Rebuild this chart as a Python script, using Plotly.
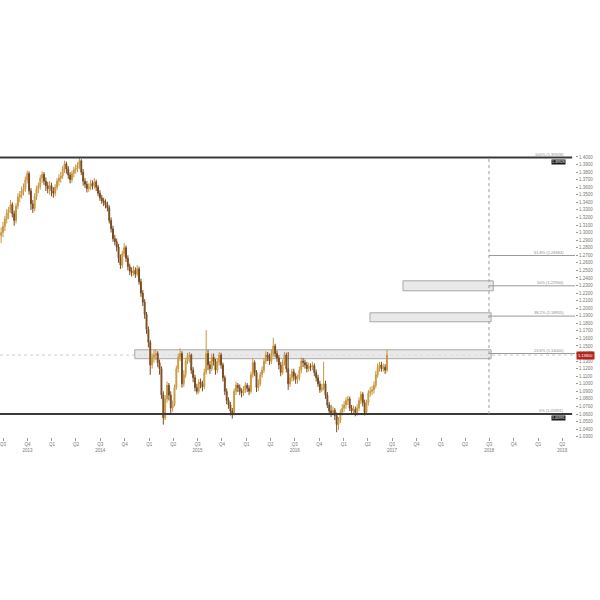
import pandas as pd
import plotly.graph_objects as go

# ---- weekly EUR/USD-style candles ----
start_week = "2013-06-24"
n_weeks = 208
opens = [1.296,1.300,1.308,1.318,1.326,1.330,1.337,1.325,1.316,1.335,1.347,1.350,1.355,1.358,1.370,1.378,1.355,1.338,1.332,1.348,
         1.358,1.362,1.372,1.377,1.368,1.362,1.358,1.362,1.355,1.352,1.360,1.368,1.372,1.375,1.384,1.391,1.384,1.376,1.370,1.378,
         1.383,1.385,1.389,1.395,1.380,1.368,1.364,1.358,1.360,1.365,1.362,1.367,1.360,1.352,1.346,1.342,1.340,1.337,1.333,1.316,
         1.305,1.292,1.288,1.281,1.266,1.257,1.272,1.280,1.266,1.255,1.249,1.247,1.250,1.245,1.252,1.235,1.220,1.208,1.192,1.172,
         1.155,1.125,1.135,1.138,1.140,1.128,1.120,1.085,1.055,1.080,1.098,1.085,1.068,1.072,1.095,1.120,1.135,1.140,1.100,1.112,
         1.130,1.136,1.138,1.118,1.108,1.095,1.090,1.102,1.100,1.096,1.115,1.140,1.125,1.120,1.135,1.130,1.118,1.128,1.138,1.125,
         1.108,1.090,1.078,1.072,1.064,1.060,1.090,1.098,1.095,1.090,1.088,1.092,1.098,1.094,1.090,1.112,1.128,1.115,1.095,1.100,
         1.112,1.118,1.130,1.138,1.135,1.130,1.140,1.150,1.140,1.134,1.125,1.115,1.128,1.138,1.120,1.100,1.108,1.116,1.110,1.106,
         1.108,1.118,1.130,1.128,1.125,1.120,1.123,1.122,1.124,1.115,1.108,1.100,1.092,1.095,1.100,1.085,1.072,1.064,1.062,1.065,
         1.058,1.046,1.052,1.062,1.068,1.072,1.078,1.080,1.068,1.064,1.066,1.062,1.068,1.078,1.086,1.075,1.062,1.075,1.088,1.090,
         1.092,1.098,1.112,1.122,1.125,1.120,1.122,1.118]
closes = [1.300,1.308,1.318,1.326,1.330,1.337,1.325,1.316,1.335,1.347,1.350,1.355,1.358,1.370,1.378,1.355,1.338,1.332,1.348,1.358,
          1.362,1.372,1.377,1.368,1.362,1.358,1.362,1.355,1.352,1.360,1.368,1.372,1.375,1.384,1.391,1.384,1.376,1.370,1.378,1.383,
          1.385,1.389,1.395,1.380,1.368,1.364,1.358,1.360,1.365,1.362,1.367,1.360,1.352,1.346,1.342,1.340,1.337,1.333,1.316,1.305,
          1.292,1.288,1.281,1.266,1.257,1.272,1.280,1.266,1.255,1.249,1.247,1.250,1.245,1.252,1.235,1.220,1.208,1.192,1.172,1.155,
          1.125,1.135,1.138,1.140,1.128,1.120,1.085,1.055,1.080,1.098,1.085,1.068,1.072,1.095,1.120,1.135,1.140,1.100,1.112,1.130,
          1.136,1.138,1.118,1.108,1.095,1.090,1.102,1.100,1.096,1.115,1.140,1.125,1.120,1.135,1.130,1.118,1.128,1.138,1.125,1.108,
          1.090,1.078,1.072,1.064,1.060,1.090,1.098,1.095,1.090,1.088,1.092,1.098,1.094,1.090,1.112,1.128,1.115,1.095,1.100,1.112,
          1.118,1.130,1.138,1.135,1.130,1.140,1.150,1.140,1.134,1.125,1.115,1.128,1.138,1.120,1.100,1.108,1.116,1.110,1.106,1.108,
          1.118,1.130,1.128,1.125,1.120,1.123,1.122,1.124,1.115,1.108,1.100,1.092,1.095,1.100,1.085,1.072,1.064,1.062,1.065,1.058,
          1.046,1.052,1.062,1.068,1.072,1.078,1.080,1.068,1.064,1.066,1.062,1.068,1.078,1.086,1.075,1.062,1.075,1.088,1.090,1.092,
          1.098,1.112,1.122,1.125,1.120,1.122,1.118,1.138]
highs = [1.307,1.314,1.322,1.331,1.334,1.343,1.340,1.329,1.339,1.352,1.355,1.361,1.365,1.374,1.382,1.381,1.359,1.343,1.352,1.362,
         1.366,1.376,1.381,1.380,1.373,1.367,1.368,1.366,1.360,1.364,1.372,1.377,1.380,1.388,1.395,1.394,1.388,1.380,1.382,1.387,
         1.390,1.393,1.399,1.397,1.384,1.372,1.368,1.365,1.370,1.369,1.372,1.370,1.363,1.356,1.350,1.346,1.344,1.341,1.336,1.320,
         1.309,1.297,1.292,1.285,1.271,1.276,1.286,1.283,1.270,1.259,1.254,1.256,1.254,1.257,1.255,1.239,1.224,1.212,1.195,1.176,
         1.158,1.140,1.145,1.146,1.143,1.132,1.123,1.090,1.085,1.103,1.101,1.090,1.078,1.099,1.124,1.140,1.147,1.143,1.118,1.134,
         1.141,1.142,1.140,1.122,1.112,1.100,1.106,1.107,1.104,1.120,1.171,1.145,1.130,1.140,1.140,1.133,1.133,1.142,1.141,1.128,
         1.111,1.094,1.082,1.076,1.068,1.094,1.103,1.101,1.099,1.094,1.097,1.102,1.101,1.098,1.116,1.134,1.131,1.118,1.106,1.116,
         1.123,1.134,1.143,1.142,1.140,1.145,1.161,1.153,1.144,1.138,1.129,1.132,1.142,1.141,1.142,1.113,1.120,1.120,1.114,1.112,
         1.123,1.135,1.134,1.132,1.129,1.128,1.127,1.129,1.127,1.119,1.112,1.104,1.100,1.129,1.104,1.089,1.076,1.072,1.070,1.068,
         1.062,1.056,1.066,1.073,1.077,1.082,1.084,1.083,1.072,1.071,1.070,1.073,1.082,1.090,1.089,1.079,1.079,1.092,1.096,1.097,
         1.103,1.117,1.127,1.129,1.129,1.127,1.126,1.145]
lows = [1.286,1.294,1.302,1.312,1.318,1.326,1.320,1.309,1.312,1.331,1.340,1.345,1.349,1.354,1.365,1.350,1.330,1.326,1.328,1.343,
        1.352,1.357,1.366,1.363,1.355,1.352,1.350,1.348,1.346,1.348,1.356,1.362,1.366,1.371,1.379,1.378,1.371,1.365,1.366,1.373,
        1.378,1.380,1.384,1.376,1.362,1.359,1.353,1.354,1.356,1.357,1.358,1.355,1.348,1.342,1.338,1.335,1.332,1.328,1.312,1.300,
        1.288,1.283,1.275,1.260,1.252,1.253,1.268,1.261,1.250,1.244,1.242,1.243,1.240,1.242,1.231,1.215,1.203,1.186,1.166,1.148,
        1.112,1.120,1.128,1.131,1.122,1.112,1.080,1.046,1.052,1.075,1.078,1.060,1.063,1.070,1.092,1.115,1.130,1.095,1.096,1.108,
        1.126,1.128,1.113,1.102,1.090,1.086,1.087,1.094,1.090,1.093,1.112,1.118,1.113,1.117,1.124,1.112,1.114,1.124,1.120,1.103,
        1.085,1.073,1.067,1.058,1.054,1.058,1.085,1.089,1.085,1.082,1.084,1.088,1.089,1.085,1.087,1.108,1.110,1.089,1.090,1.097,
        1.108,1.114,1.126,1.130,1.125,1.126,1.136,1.135,1.129,1.119,1.110,1.112,1.124,1.115,1.092,1.096,1.103,1.104,1.100,1.100,
        1.104,1.114,1.122,1.120,1.115,1.116,1.117,1.118,1.110,1.103,1.096,1.088,1.089,1.091,1.080,1.068,1.059,1.056,1.058,1.052,
        1.036,1.039,1.048,1.058,1.063,1.067,1.072,1.064,1.060,1.060,1.057,1.058,1.064,1.073,1.070,1.058,1.060,1.071,1.083,1.085,
        1.087,1.094,1.108,1.116,1.116,1.116,1.113,1.115]

# ---- drawn levels ----
fib_labels = ["100%", "61.8%", "50%", "38.2%", "23.6%", "0%"]
fib_values = [1.39928, 1.26964, 1.22960, 1.18955, 1.14000, 1.05991]
fib_time = "2018-06-30"
box_starts = ["2014-11-08", "2017-04-09", "2017-08-11"]
box_ends = ["2018-07-08", "2018-07-08", "2018-07-16"]
box_lows = [1.1332, 1.1820, 1.2230]
box_highs = [1.1450, 1.1939, 1.2362]

# ---- axis ticks ----
q_dates = pd.date_range("2013-07-01", "2019-04-01", freq="QS")
q_labels = ["Q3", "Q4<br>2013", "Q1", "Q2", "Q3<br>2014", "Q4", "Q1", "Q2", "Q3<br>2015", "Q4", "Q1", "Q2",
            "Q3<br>2016", "Q4", "Q1", "Q2", "Q3<br>2017", "Q4", "Q1", "Q2", "Q3<br>2018", "Q4", "Q1", "Q2<br>2019"]
y_ticks = [round(1.03 + 0.01 * k, 2) for k in range(38)]
y_labels = [f"{v:.4f}" for v in y_ticks]

dates = pd.date_range(start_week, periods=n_weeks, freq="7D")

fig = go.Figure()
fig.add_trace(go.Candlestick(
    x=dates, open=opens, high=highs, low=lows, close=closes,
    increasing=dict(line=dict(color="#c8963e", width=1), fillcolor="#e2b964"),
    decreasing=dict(line=dict(color="#7a4a1e", width=1), fillcolor="#8b5a2b"),
    whiskerwidth=0, showlegend=False, hoverinfo="skip",
))

shapes = []
for xs, xe, lo, hi in zip(box_starts, box_ends, box_lows, box_highs):
    shapes.append(dict(type="rect", xref="x", yref="y", x0=xs, x1=xe, y0=lo, y1=hi,
                       fillcolor="rgba(225,225,225,0.75)", line=dict(color="#a8a8a8", width=1), layer="below"))
shapes.append(dict(type="line", xref="paper", yref="y", x0=0, x1=1, y0=closes[-1], y1=closes[-1],
                   line=dict(color="#cccccc", width=1, dash="dot"), layer="below"))
for lab, v in zip(fib_labels, fib_values):
    if lab in ("100%", "0%"):
        shapes.append(dict(type="line", xref="paper", yref="y", x0=0, x1=0.995, y0=v, y1=v,
                           line=dict(color="#3a3a3a", width=2)))
    else:
        shapes.append(dict(type="line", xref="x", yref="y", x0=fib_time, x1="2019-05-19", y0=v, y1=v,
                           line=dict(color="#9a9a9a", width=1)))
shapes.append(dict(type="line", xref="x", yref="y", x0=fib_time, x1=fib_time,
                   y0=fib_values[-1], y1=fib_values[0], line=dict(color="#9a9a9a", width=1, dash="dot")))

annotations = []
for lab, v in zip(fib_labels, fib_values):
    annotations.append(dict(xref="paper", yref="y", x=0.985, y=v, xanchor="right", yanchor="bottom",
                            text=f"{lab} ({v:.5f})", showarrow=False,
                            font=dict(size=4, color="#8a8a8a"), yshift=-1))
    if lab in ("100%", "0%"):
        annotations.append(dict(xref="paper", yref="y", x=0.985, y=v, xanchor="right", yanchor="top",
                                text=f"{v:.5f}", showarrow=False, bgcolor="#1a1a1a",
                                font=dict(size=3.5, color="#ffffff"), borderpad=0, yshift=-1))
annotations.append(dict(xref="paper", yref="y", x=1.0, y=closes[-1], xanchor="left", yanchor="middle",
                        text=f"{closes[-1]:.5f}", showarrow=False, bgcolor="#b3261e",
                        font=dict(size=4, color="#ffffff"), borderpad=1, xshift=1))

fig.update_layout(
    width=600, height=600,
    margin=dict(l=0, r=25, t=147, b=163),
    paper_bgcolor="white", plot_bgcolor="white",
    font=dict(family="Liberation Sans, Arial, sans-serif", color="#777777"),
    shapes=shapes, annotations=annotations,
    xaxis=dict(type="date", range=["2013-06-19 18:00", "2019-05-19"], rangeslider=dict(visible=False),
               showgrid=False, zeroline=False, showline=False,
               tickmode="array", tickvals=q_dates, ticktext=q_labels, ticklabeloverflow="allow",
               ticks="outside", ticklen=3, tickcolor="#999999", tickwidth=1,
               tickfont=dict(size=4.5, color="#777777"), automargin=False),
    yaxis=dict(side="right", range=[1.0296, 1.4132], showgrid=False, zeroline=False, showline=False,
               tickmode="array", tickvals=y_ticks, ticktext=y_labels,
               ticks="outside", ticklen=2, tickcolor="#999999",
               tickfont=dict(size=4.5, color="#777777"), automargin=False),
)

fig.write_html("out.html", config={"displayModeBar": False},
               post_script="document.body.style.margin='0';document.body.style.overflow='hidden';")
